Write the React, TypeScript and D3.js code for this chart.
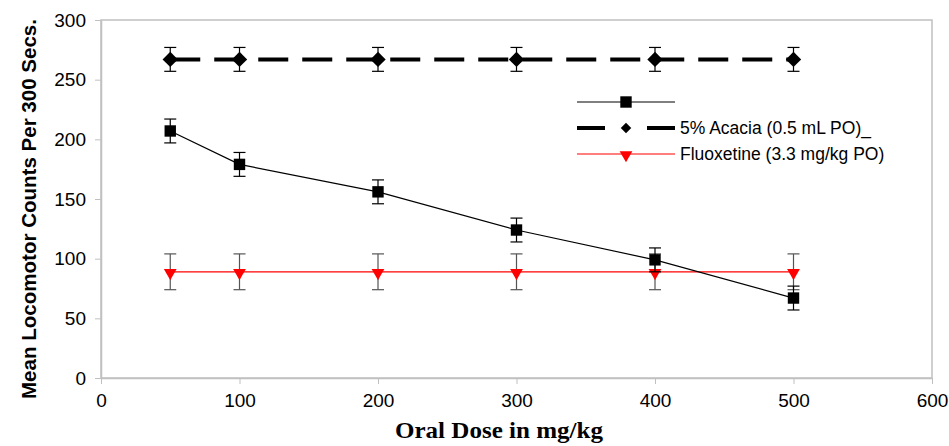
import React, { useEffect, useRef } from 'react';
import * as d3 from 'd3';

const doses = [50, 100, 200, 300, 400, 500];
const testMeans = [207, 179, 156, 124, 99, 67];
const testErr = [10, 10, 10, 10, 10, 10];
const acaciaMeans = [267, 267, 267, 267, 267, 267];
const acaciaErr = [10, 10, 10, 10, 10, 10];
const fluoxMeans = [89, 89, 89, 89, 89, 89];
const fluoxErr = [15, 15, 15, 15, 15, 15];
const xTicks = [0, 100, 200, 300, 400, 500, 600];
const yTicks = [0, 50, 100, 150, 200, 250, 300];
const legendLabels = ['', '5% Acacia (0.5 mL PO)_', 'Fluoxetine (3.3 mg/kg PO)'];

const W = 949;
const H = 446;

const App = () => {
  const ref = useRef<SVGSVGElement>(null);

  useEffect(() => {
    const svg = d3.select(ref.current);
    svg.selectAll('*').remove();

    const x = d3.scaleLinear().domain([0, 600]).range([101, 932]);
    const y = d3.scaleLinear().domain([0, 300]).range([378, 20]);

    // plot frame
    svg.append('rect')
      .attr('x', 101).attr('y', 20)
      .attr('width', 831).attr('height', 358)
      .attr('fill', 'none').attr('stroke', '#c0c0c0').attr('stroke-width', 1.5);

    const axisFont = '"Liberation Sans", Arial, sans-serif';

    const xAxis = svg.append('g').attr('transform', 'translate(0,378)')
      .call(d3.axisBottom(x).tickValues(xTicks).tickSize(6).tickSizeOuter(0).tickPadding(10));
    xAxis.select('.domain').attr('stroke', '#c0c0c0').attr('stroke-width', 1.5);
    xAxis.selectAll('line').attr('stroke', '#c0c0c0');
    xAxis.selectAll('text').attr('font-family', axisFont).attr('font-size', 19).attr('fill', '#000');

    const yAxis = svg.append('g').attr('transform', 'translate(101,0)')
      .call(d3.axisLeft(y).tickValues(yTicks).tickSize(6).tickSizeOuter(0).tickPadding(9));
    yAxis.select('.domain').attr('stroke', '#c0c0c0').attr('stroke-width', 1.5);
    yAxis.selectAll('line').attr('stroke', '#c0c0c0');
    yAxis.selectAll('text').attr('font-family', axisFont).attr('font-size', 19).attr('fill', '#000');

    // axis titles
    svg.append('text')
      .attr('transform', `translate(36,209) rotate(-90)`)
      .attr('text-anchor', 'middle')
      .attr('font-family', axisFont).attr('font-weight', 'bold').attr('font-size', 20.5)
      .attr('textLength', 380).attr('lengthAdjust', 'spacingAndGlyphs')
      .text('Mean Locomotor Counts Per 300 Secs.');
    svg.append('text')
      .attr('x', 499).attr('y', 438)
      .attr('text-anchor', 'middle')
      .attr('font-family', '"Liberation Serif", "Times New Roman", serif')
      .attr('font-weight', 'bold').attr('font-size', 24)
      .attr('textLength', 208).attr('lengthAdjust', 'spacingAndGlyphs')
      .text('Oral Dose in mg/kg');

    const drawErr = (means: number[], errs: number[], color: string) => {
      const g = svg.append('g').attr('stroke', color).attr('stroke-width', 1.2);
      doses.forEach((d, i) => {
        const cx = x(d);
        const top = y(means[i] + errs[i]);
        const bot = y(means[i] - errs[i]);
        g.append('line').attr('x1', cx).attr('x2', cx).attr('y1', top).attr('y2', bot);
        g.append('line').attr('x1', cx - 6).attr('x2', cx + 6).attr('y1', top).attr('y2', top);
        g.append('line').attr('x1', cx - 6).attr('x2', cx + 6).attr('y1', bot).attr('y2', bot);
      });
    };

    const line = d3.line<number>().x((_, i) => x(doses[i])).y(v => y(v));

    // acacia
    drawErr(acaciaMeans, acaciaErr, '#000');
    svg.append('path').attr('d', line(acaciaMeans))
      .attr('fill', 'none').attr('stroke', '#000').attr('stroke-width', 4)
      .attr('stroke-dasharray', '30,14');
    const diamond = d3.symbol().type(d3.symbolDiamond2).size(150);
    svg.append('g').selectAll('path').data(acaciaMeans).join('path')
      .attr('d', diamond)
      .attr('transform', (v, i) => `translate(${x(doses[i])},${y(v)})`)
      .attr('fill', '#000');

    // fluoxetine
    drawErr(fluoxMeans, fluoxErr, '#555');
    svg.append('path').attr('d', line(fluoxMeans))
      .attr('fill', 'none').attr('stroke', '#ff0000').attr('stroke-width', 1.3);
    const tri = d3.symbol().type(d3.symbolTriangle).size(70);
    svg.append('g').selectAll('path').data(fluoxMeans).join('path')
      .attr('d', tri)
      .attr('transform', (v, i) => `translate(${x(doses[i])},${y(v) + 1}) rotate(180)`)
      .attr('fill', '#ff0000');

    // test compound
    drawErr(testMeans, testErr, '#000');
    svg.append('path').attr('d', line(testMeans))
      .attr('fill', 'none').attr('stroke', '#000').attr('stroke-width', 1.2);
    const sq = d3.symbol().type(d3.symbolSquare).size(130);
    svg.append('g').selectAll('path').data(testMeans).join('path')
      .attr('d', sq)
      .attr('transform', (v, i) => `translate(${x(doses[i])},${y(v)})`)
      .attr('fill', '#000');

    // legend
    const lg = svg.append('g').attr('transform', 'translate(577,102)');
    const rows = lg.selectAll('g').data(legendLabels).join('g')
      .attr('transform', (_, i) => `translate(0,${i * 26})`);
    rows.append('line')
      .attr('x1', 0).attr('x2', 98).attr('y1', 0).attr('y2', 0)
      .attr('stroke', (_, i) => (i === 2 ? '#ff0000' : '#000'))
      .attr('stroke-width', (_, i) => (i === 1 ? 4 : 1.2))
      .attr('stroke-dasharray', (_, i) => (i === 1 ? '28,42' : null));
    rows.append('path')
      .attr('d', (_, i) => (i === 0 ? sq() : i === 1 ? d3.symbol().type(d3.symbolDiamond2).size(70)() : tri()))
      .attr('transform', (_, i) => `translate(49,${i === 2 ? 1 : 0})${i === 2 ? ' rotate(180)' : ''}`)
      .attr('fill', (_, i) => (i === 2 ? '#ff0000' : '#000'));
    rows.append('text')
      .attr('x', 103).attr('y', 6)
      .attr('font-family', axisFont).attr('font-size', 17.5)
      .text(d => d);
  }, []);

  return <svg ref={ref} width={W} height={H} style={{ position: 'absolute', left: 0, top: 0 }} />;
};

export default App;
